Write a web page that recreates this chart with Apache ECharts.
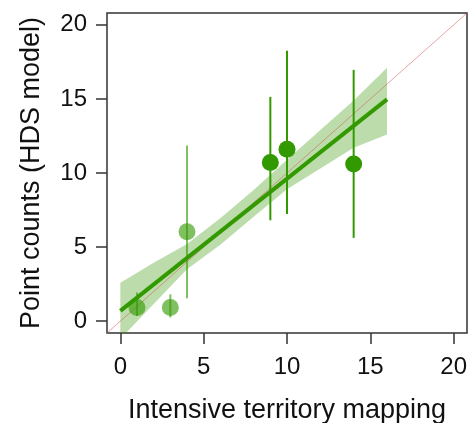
<!DOCTYPE html>
<html>
<head>
<meta charset="utf-8">
<script src="https://cdn.jsdelivr.net/npm/echarts@6/dist/echarts.min.js"></script>
<style>
html,body{margin:0;padding:0;background:#fff;}
#c{width:473px;height:423px;}
</style>
</head>
<body>
<div id="c"></div>
<script>
// Observed points (x: territory mapping, y: HDS model estimate) with intervals
const lightX = [1, 3, 4];
const lightY = [0.92, 0.92, 6.03];
const lightLo = [0.35, 0.25, 1.55];
const lightHi = [1.93, 1.81, 11.85];

const darkX = [9, 10, 14];
const darkY = [10.71, 11.6, 10.6];
const darkLo = [6.81, 7.24, 5.62];
const darkHi = [15.14, 18.26, 16.96];

// Fitted regression line and its confidence band
const fitX = [0, 16];
const fitY = [0.69, 14.97];
const bandX = [0, 2, 4, 6, 8, 10, 12, 14, 16];
const bandUpper = [2.6, 3.95, 5.2, 6.95, 8.85, 10.9, 12.9, 14.9, 17.1];
const bandLower = [-1.2, 1.15, 3.5, 5.15, 7.05, 8.9, 10.3, 11.7, 12.6];

// 1:1 reference line
const refX = [-0.8, 20.8];
const refY = [-0.8, 20.8];

// axis ranges and ticks
const axisMin = -0.8, axisMax = 20.8;
const tickMin = 0, tickMax = 20, tickStep = 5;

const green = 'rgb(51,153,0)';
const greenLight = 'rgba(51,153,0,0.62)';
const font = 'Liberation Sans, Arial, Helvetica, sans-serif';
const axisColor = '#333';

// plot box (pixels)
const W = 473, H = 423;
const boxL = 107, boxR = 6, boxT = 13, boxB = 90;
const boxW = W - boxL - boxR, boxH = H - boxT - boxB;
const pxX = boxW / (axisMax - axisMin), pxY = boxH / (axisMax - axisMin);
const padX0 = (tickMin - axisMin) * pxX, padX1 = (axisMax - tickMax) * pxX;
const padY0 = (tickMin - axisMin) * pxY, padY1 = (axisMax - tickMax) * pxY;

const chart = echarts.init(document.getElementById('c'), null, {renderer: 'canvas'});

function clipRect(params) {
  const cs = params.coordSys;
  return {type: 'rect', shape: {x: cs.x, y: cs.y, width: cs.width, height: cs.height}};
}

function errorBarSeries(xs, lo, hi, color, z) {
  return {
    type: 'custom',
    z: z,
    silent: true,
    data: xs.map((x, i) => [x, lo[i], hi[i]]),
    encode: {x: 0, y: [1, 2]},
    renderItem: function (params, api) {
      const p1 = api.coord([api.value(0), api.value(1)]);
      const p2 = api.coord([api.value(0), api.value(2)]);
      return {
        type: 'line',
        shape: {x1: p1[0], y1: p1[1], x2: p2[0], y2: p2[1]},
        style: {stroke: color, lineWidth: 2}
      };
    }
  };
}

const option = {
  animation: false,
  backgroundColor: '#fff',
  grid: [
    {
      left: boxL, right: boxR, top: boxT, bottom: boxB,
      containLabel: false, outerBoundsMode: 'none',
      show: true, borderColor: axisColor, borderWidth: 1.5, backgroundColor: 'transparent'
    },
    {
      left: boxL + padX0, right: boxR + padX1, top: boxT + padY1, bottom: boxB + padY0,
      containLabel: false, outerBoundsMode: 'none', show: false
    }
  ],
  xAxis: [
    {
      gridIndex: 0, type: 'value', min: axisMin, max: axisMax,
      axisLine: {show: false, onZero: false},
      splitLine: {show: false}, axisTick: {show: false}, axisLabel: {show: false},
      name: 'Intensive territory mapping',
      nameLocation: 'middle', nameGap: 64, nameMoveOverlap: false,
      nameTextStyle: {fontSize: 27, color: '#111', fontFamily: font}
    },
    {
      gridIndex: 1, type: 'value', min: tickMin, max: tickMax, interval: tickStep,
      offset: padY0,
      axisLine: {show: false, onZero: false},
      splitLine: {show: false},
      axisTick: {show: true, length: 11, inside: false, lineStyle: {color: axisColor, width: 1.5}},
      axisLabel: {fontSize: 24, color: '#111', margin: 22, fontFamily: font}
    }
  ],
  yAxis: [
    {
      gridIndex: 0, type: 'value', min: axisMin, max: axisMax,
      axisLine: {show: false, onZero: false},
      splitLine: {show: false}, axisTick: {show: false}, axisLabel: {show: false},
      name: 'Point counts (HDS model)',
      nameLocation: 'middle', nameGap: 62, nameRotate: 90, nameMoveOverlap: false,
      nameTextStyle: {fontSize: 27, color: '#111', fontFamily: font}
    },
    {
      gridIndex: 1, type: 'value', min: tickMin, max: tickMax, interval: tickStep,
      offset: padX0,
      axisLine: {show: false, onZero: false},
      splitLine: {show: false},
      axisTick: {show: true, length: 11, inside: false, lineStyle: {color: axisColor, width: 1.5}},
      axisLabel: {fontSize: 24, color: '#111', margin: 20, fontFamily: font}
    }
  ],
  series: [
    {
      type: 'custom',
      z: 1,
      silent: true,
      data: bandX.map((x, i) => [x, bandUpper[i], bandLower[i]]),
      encode: {x: 0, y: [1, 2]},
      renderItem: function (params, api) {
        if (params.dataIndex !== 0) return null;
        const pts = [];
        for (let i = 0; i < bandX.length; i++) pts.push(api.coord([bandX[i], bandUpper[i]]));
        for (let i = bandX.length - 1; i >= 0; i--) pts.push(api.coord([bandX[i], bandLower[i]]));
        return {
          type: 'polygon',
          shape: {points: pts},
          style: {fill: 'rgba(51,153,0,0.33)'},
          clipPath: clipRect(params)
        };
      }
    },
    {
      type: 'line', z: 2, silent: true, symbol: 'none',
      data: refX.map((x, i) => [x, refY[i]]),
      lineStyle: {color: 'rgba(210,90,90,0.55)', width: 1}
    },
    {
      type: 'line', z: 3, silent: true, symbol: 'none',
      data: fitX.map((x, i) => [x, fitY[i]]),
      lineStyle: {color: green, width: 4}
    },
    errorBarSeries(lightX, lightLo, lightHi, greenLight, 4),
    errorBarSeries(darkX, darkLo, darkHi, green, 4),
    {
      type: 'scatter', z: 5, silent: true, symbol: 'circle', symbolSize: 17,
      data: lightX.map((x, i) => [x, lightY[i]]),
      itemStyle: {color: greenLight, opacity: 1}
    },
    {
      type: 'scatter', z: 5, silent: true, symbol: 'circle', symbolSize: 17,
      data: darkX.map((x, i) => [x, darkY[i]]),
      itemStyle: {color: green, opacity: 1}
    }
  ]
};
chart.setOption(option);
</script>
</body>
</html>
